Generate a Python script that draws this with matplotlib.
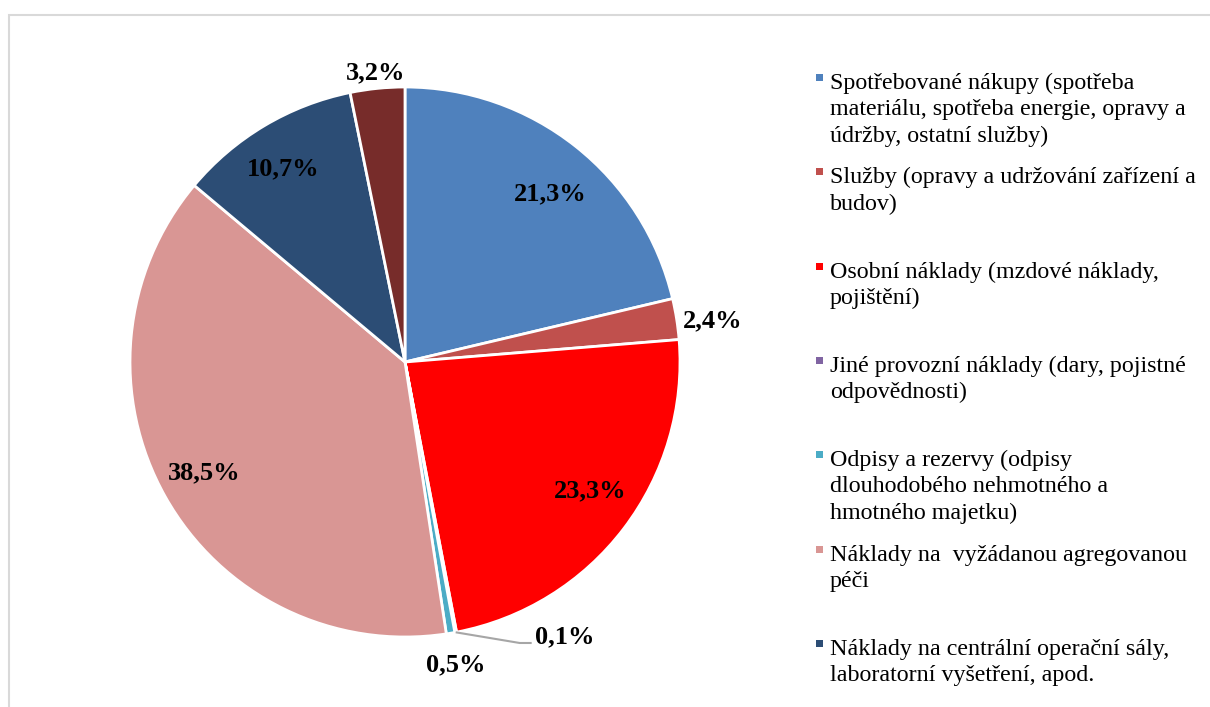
import numpy as np
import matplotlib
matplotlib.use("Agg")
import matplotlib.pyplot as plt
from matplotlib.patches import Rectangle

# Cost structure (share of total costs, %)
categories = [
    "Spotřebované nákupy (spotřeba\nmateriálu, spotřeba energie, opravy a\núdržby, ostatní služby)",
    "Služby (opravy a udržování zařízení a\nbudov)",
    "Osobní náklady (mzdové náklady,\npojištění)",
    "Jiné provozní náklady (dary, pojistné\nodpovědnosti)",
    "Odpisy a rezervy (odpisy\ndlouhodobého nehmotného a\nhmotného majetku)",
    "Náklady na  vyžádanou agregovanou\npéči",
    "Náklady na centrální operační sály,\nlaboratorní vyšetření, apod.",
    "Ostatní náklady",
]
shares = [21.3, 2.4, 23.3, 0.1, 0.5, 38.5, 10.7, 3.2]
colors = ["#4F81BD", "#C0504D", "#FF0000", "#8064A2",
          "#4BACC6", "#D99694", "#2C4D75", "#772C2A"]
n_legend = 7  # entries that fit into the legend column

W, H = 1210, 707
fig = plt.figure(figsize=(W / 100, H / 100), dpi=100)
ax = fig.add_axes([0, 0, 1, 1])

cx, cy, R = 405, H - 362, 275
wedges, _ = ax.pie(shares, colors=colors, startangle=90, counterclock=False,
                   center=(cx, cy), radius=R,
                   wedgeprops=dict(edgecolor="white", linewidth=2.0))
ax.set_xlim(0, W)
ax.set_ylim(0, H)
ax.set_aspect("equal")
ax.axis("off")

serif = ["Liberation Serif", "DejaVu Serif"]
label_fs = 19
half_digit = 8.5  # half the digit height in px, to centre labels on digits

# label placement: (fraction of radius, angular nudge in degrees)
label_pos = [(0.815, -2.2), (1.129, -1.0), (0.817, 2.9), None,
             (1.11, 0.0), (0.83, -0.8), (0.837, 1.3), (1.063, 0.0)]

def fmt(v):
    return f"{v:.1f}%".replace(".", ",")

for w, v, pos in zip(wedges, shares, label_pos):
    mid_deg = (w.theta1 + w.theta2) / 2
    if pos is None:
        # tiny slice: label outside with a leader line
        mid = np.deg2rad(mid_deg)
        x0, y0 = cx + R * np.cos(mid), cy + R * np.sin(mid)
        ax.plot([x0, x0 + 64, x0 + 76], [y0, y0 - 10.7, y0 - 10.7],
                color="#A6A6A6", lw=1.5, solid_capstyle="butt")
        ax.text(x0 + 79, y0 - 11.2, fmt(v), ha="left", va="baseline",
                fontsize=label_fs, fontweight="bold", family=serif)
        continue
    rf, nudge = pos
    a = np.deg2rad(mid_deg + nudge)
    x, y = cx + R * rf * np.cos(a), cy + R * rf * np.sin(a)
    ax.text(x, y - half_digit, fmt(v), ha="center", va="baseline",
            fontsize=label_fs, fontweight="bold", family=serif)

# Legend column: one text per line so that baselines sit on a fixed grid
leg_x, first_base, leg_step, line_h = 830, H - 89, 94.3, 26.3
for i in range(n_legend):
    base = first_base - i * leg_step
    ax.add_patch(Rectangle((816, base + 11.5 - 3.5), 7, 7,
                           color=colors[i], lw=0))
    for k, line in enumerate(categories[i].split("\n")):
        ax.text(leg_x, base - k * line_h, line, ha="left", va="baseline",
                fontsize=17.3, family=serif, color="black")

# chart area border
fig.patches.append(Rectangle((8.5 / W, -0.02), 1.1, (H - 14.5) / H + 0.02,
                             transform=fig.transFigure, fill=False,
                             edgecolor="#D9D9D9", lw=1.5))

fig.savefig("out.png", dpi=100)
